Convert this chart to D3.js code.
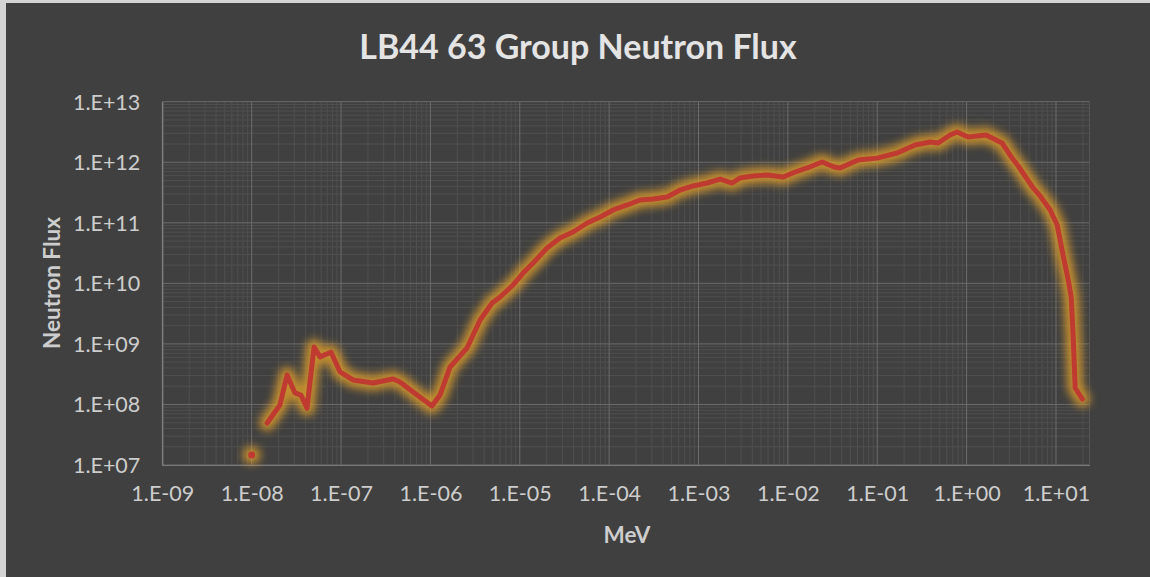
<!DOCTYPE html>
<html>
<head>
<meta charset="utf-8">
<script src="https://cdn.jsdelivr.net/npm/d3@7"></script>
<style>
  body { margin: 0; background: #404040; }
  svg { display: block; }
</style>
</head>
<body>
<script>
// group energies (MeV) and flux; 0 = empty group (gap in line)
const energy = [1.0e-8, 1.2e-8, 1.49e-8, 2.07e-8, 2.49e-8, 3.05e-8, 3.56e-8, 4.16e-8, 4.99e-8, 5.82e-8,
  7.73e-8, 9.75e-8, 1.36e-7, 2.28e-7, 3.82e-7, 4.57e-7, 7.10e-7, 1.04e-6, 1.28e-6, 1.66e-6,
  2.04e-6, 2.57e-6, 3.60e-6, 4.90e-6, 6.03e-6, 8.41e-6, 1.09e-5, 1.41e-5, 2.02e-5, 2.82e-5,
  3.95e-5, 5.68e-5, 7.93e-5, 1.11e-4, 1.59e-4, 2.22e-4, 3.10e-4, 4.46e-4, 6.22e-4, 8.71e-4,
  1.25e-3, 1.75e-3, 2.38e-3, 2.92e-3, 4.09e-3, 5.86e-3, 8.85e-3, 1.21e-2, 1.64e-2, 2.42e-2,
  3.29e-2, 3.84e-2, 6.11e-2, 9.95e-2, 1.67e-1, 2.65e-1, 3.91e-1, 4.80e-1, 6.53e-1, 7.82e-1,
  1.04, 1.65, 2.49, 3.23, 3.78, 5.55, 6.65, 8.61, 10.3, 12.0,
  13.7, 14.8, 15.6, 16.4, 19.7]

const flux = [1.46e7, 0, 4.94e7, 9.8e7, 3.06e8, 1.55e8, 1.43e8, 8.7e7, 8.9e8, 6.1e8,
  7.3e8, 3.44e8, 2.54e8, 2.26e8, 2.63e8, 2.35e8, 1.43e8, 9.4e7, 1.43e8, 4.16e8,
  5.85e8, 8.55e8, 2.48e9, 4.74e9, 5.96e9, 9.4e9, 1.48e10, 2.17e10, 3.84e10, 5.61e10,
  7.05e10, 9.93e10, 1.25e11, 1.63e11, 1.97e11, 2.38e11, 2.47e11, 2.67e11, 3.48e11, 4.06e11,
  4.54e11, 5.28e11, 4.54e11, 5.50e11, 5.93e11, 6.17e11, 5.71e11, 6.90e11, 8.04e11, 1.01e12,
  8.36e11, 8.04e11, 1.09e12, 1.17e12, 1.42e12, 1.93e12, 2.16e12, 2.08e12, 2.82e12, 3.16e12,
  2.61e12, 2.82e12, 2.08e12, 1.17e12, 8.67e11, 3.76e11, 2.77e11, 1.63e11, 9.2e10, 2.94e10,
  1.14e10, 5.96e9, 1.25e9, 1.87e8, 1.23e8]

const xTicks = [1e-9, 1e-8, 1e-7, 1e-6, 1e-5, 1e-4, 1e-3, 1e-2, 1e-1, 1e0, 1e1]
const yTicks = [1e7, 1e8, 1e9, 1e10, 1e11, 1e12, 1e13]

const W = 1150
const H = 577
const pLeft = 162.3, pRight = 1089.5, pTop = 101.7, pBottom = 465

const fmt = v => {
    const e = Math.round(Math.log10(v))
    const s = String(Math.abs(e)).padStart(2, '0')
    return '1.E' + (e < 0 ? '-' : '+') + s
}

const data = energy.map((e, i) => ({ e: e, f: flux[i] }))
// points with no drawn neighbour on either side (Excel shows them as a lone dot)
const lone = data.filter((d, i) => d.f > 0 && !(data[i - 1] && data[i - 1].f > 0) && !(data[i + 1] && data[i + 1].f > 0))

const svg = d3.select('body')
    .append('svg')
    .attr('width', W)
    .attr('height', H)

// outer frame
svg.append('rect').attr('width', W).attr('height', H).attr('fill', '#d4d4d4')
svg.append('rect').attr('x', 6).attr('y', 3).attr('width', W - 6).attr('height', H - 3).attr('fill', '#404040')

const defs = svg.append('defs')
defs.append('filter')
    .attr('id', 'glow')
    .attr('x', '-10%').attr('y', '-10%').attr('width', '120%').attr('height', '120%')
    .append('feGaussianBlur')
    .attr('stdDeviation', 4)

const x = d3.scaleLog()
    .domain([1e-9, Math.pow(10, 1.375)])
    .range([pLeft, pRight])

const y = d3.scaleLog()
    .domain([1e7, 1e13])
    .range([pBottom, pTop])

// minor gridlines
const xMinor = []
xTicks.forEach(t => { for (let k = 2; k <= 9; k++) if (t * k <= x.domain()[1]) xMinor.push(t * k) })
const yMinor = []
yTicks.slice(0, -1).forEach(t => { for (let k = 2; k <= 9; k++) yMinor.push(t * k) })

const grid = svg.append('g')
grid.selectAll('.xminor')
    .data(xMinor)
    .enter()
    .append('line')
    .attr('x1', d => x(d)).attr('x2', d => x(d))
    .attr('y1', pTop).attr('y2', pBottom)
    .attr('stroke', '#4f4f4f').attr('stroke-width', 1)
grid.selectAll('.yminor')
    .data(yMinor)
    .enter()
    .append('line')
    .attr('x1', pLeft).attr('x2', pRight)
    .attr('y1', d => y(d)).attr('y2', d => y(d))
    .attr('stroke', '#4f4f4f').attr('stroke-width', 1)

// major gridlines
grid.selectAll('.xmajor')
    .data(xTicks)
    .enter()
    .append('line')
    .attr('x1', d => x(d)).attr('x2', d => x(d))
    .attr('y1', pTop).attr('y2', pBottom)
    .attr('stroke', '#6b6b6b').attr('stroke-width', 1)
grid.selectAll('.ymajor')
    .data(yTicks)
    .enter()
    .append('line')
    .attr('x1', pLeft).attr('x2', pRight)
    .attr('y1', d => y(d)).attr('y2', d => y(d))
    .attr('stroke', '#6b6b6b').attr('stroke-width', 1)

svg.append('line')
    .attr('x1', pRight).attr('x2', pRight).attr('y1', pTop).attr('y2', pBottom)
    .attr('stroke', '#555555')

// axes
const xAxis = d3.axisBottom(x).tickValues(xTicks).tickFormat(fmt).tickSize(0).tickPadding(21)
const yAxis = d3.axisLeft(y).tickValues(yTicks).tickFormat(fmt).tickSize(0).tickPadding(22)

svg.append('g')
    .attr('transform', `translate(0, ${pBottom})`)
    .call(xAxis)
    .call(g => g.select('.domain').attr('stroke', '#7a7a7a'))
    .selectAll('text')
    .attr('fill', '#cdcdcd')
    .style('font-family', 'Lato, sans-serif')
    .style('font-size', '21.5px')

svg.append('g')
    .attr('transform', `translate(${pLeft}, 0)`)
    .call(yAxis)
    .call(g => g.select('.domain').attr('stroke', '#8a8a8a'))
    .selectAll('text')
    .attr('fill', '#cdcdcd')
    .attr('dy', '0.35em')
    .style('font-family', 'Lato, sans-serif')
    .style('font-size', '21.5px')

// line with glow
const line = d3.line()
    .defined(d => d.f > 0)
    .x(d => x(d.e))
    .y(d => y(d.f))

const glow = svg.append('g')
    .attr('opacity', 0.8)
    .attr('filter', 'url(#glow)')

glow.append('path')
    .datum(data)
    .attr('d', line)
    .attr('fill', 'none')
    .attr('stroke', '#e3a02a')
    .attr('stroke-width', 16)
    .attr('stroke-linecap', 'round')
    .attr('stroke-linejoin', 'round')

glow.selectAll('circle')
    .data(lone)
    .enter()
    .append('circle')
    .attr('cx', d => x(d.e))
    .attr('cy', d => y(d.f))
    .attr('r', 9)
    .attr('fill', '#e3a02a')

svg.append('path')
    .datum(data)
    .attr('d', line)
    .attr('fill', 'none')
    .attr('stroke', '#bf3a30')
    .attr('stroke-width', 5)
    .attr('stroke-linecap', 'round')
    .attr('stroke-linejoin', 'round')

svg.selectAll('.lone')
    .data(lone)
    .enter()
    .append('circle')
    .attr('cx', d => x(d.e))
    .attr('cy', d => y(d.f))
    .attr('r', 3.5)
    .attr('fill', '#bf3a30')

// titles
svg.append('text')
    .attr('x', 578).attr('y', 59)
    .attr('text-anchor', 'middle')
    .attr('fill', '#e4e4e4')
    .style('font-family', 'Lato, sans-serif')
    .style('font-weight', 'bold')
    .style('font-size', '34px')
    .text('LB44 63 Group Neutron Flux')

svg.append('text')
    .attr('transform', 'translate(60, 283) rotate(-90)')
    .attr('text-anchor', 'middle')
    .attr('fill', '#cdcdcd')
    .style('font-family', 'Lato, sans-serif')
    .style('font-weight', 'bold')
    .style('font-size', '22.5px')
    .text('Neutron Flux')

svg.append('text')
    .attr('x', 627).attr('y', 543)
    .attr('text-anchor', 'middle')
    .attr('fill', '#cdcdcd')
    .style('font-family', 'Lato, sans-serif')
    .style('font-weight', 'bold')
    .style('font-size', '22.5px')
    .text('MeV')
</script>
</body>
</html>
